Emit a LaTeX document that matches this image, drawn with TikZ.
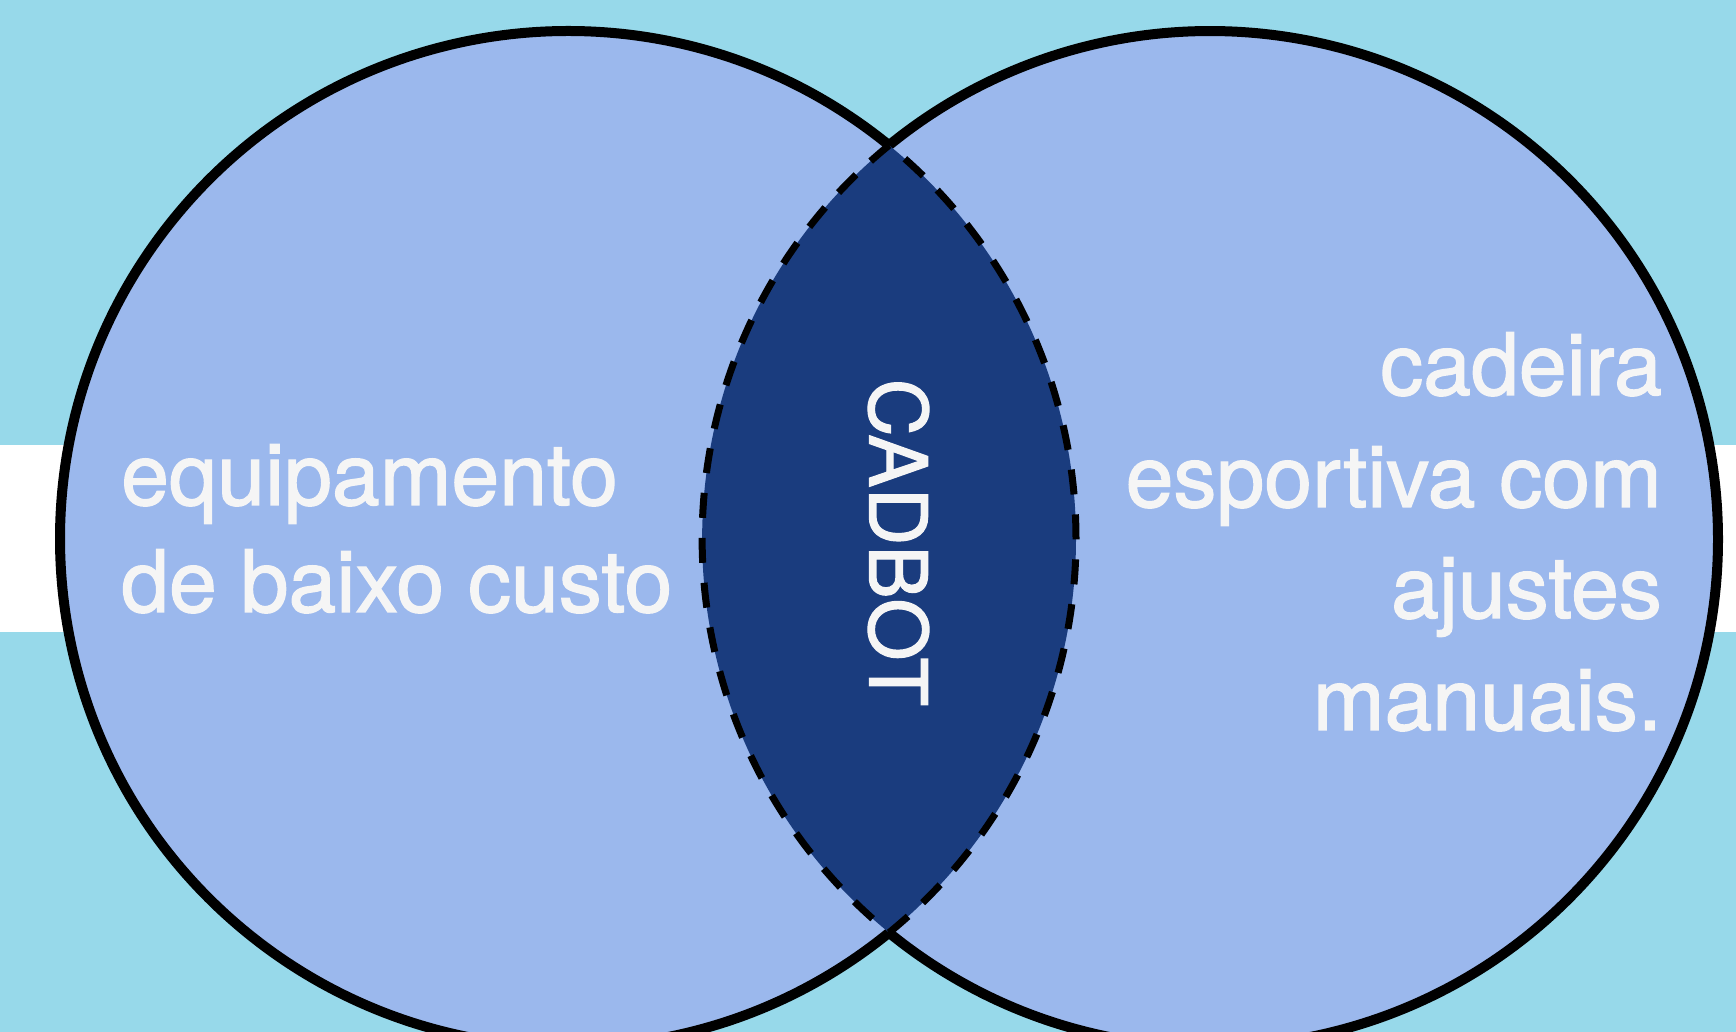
\documentclass[tikz,border=0pt]{standalone}
\usepackage{fontspec}
\setmainfont{TeX Gyre Heros}
\newfontfamily\medfont{TeX Gyre Heros}[FakeBold=1.5]
\definecolor{bgcyan}{RGB}{151,217,234}
\definecolor{lightcirc}{RGB}{155,184,237}
\definecolor{darklens}{RGB}{26,60,126}
\definecolor{labeltext}{RGB}{245,245,245}
\begin{document}
\begin{tikzpicture}[x=1pt,y=1pt,
  outline/.style={draw=black,line width=10pt},
  lensline/.style={draw=black,line width=7pt,dash pattern=on 25pt off 20pt},
  lbl/.style={text=labeltext,inner sep=0pt,font=\medfont\fontsize{86}{100}\selectfont}]
\useasboundingbox (0,0) rectangle (1736,1032);
\fill[bgcyan] (0,0) rectangle (1736,1032);
\fill[white] (0,400) rectangle (1736,587);
\coordinate (cl) at (568,493);
\coordinate (cr) at (1210,493);
\fill[lightcirc] (cl) circle[radius=508];
\fill[lightcirc] (cr) circle[radius=508];
\draw[outline] ([shift={(50.8:508)}]cl) arc[start angle=50.8,end angle=309.2,radius=508];
\draw[outline] ([shift={(-129.2:508)}]cr) arc[start angle=-129.2,end angle=129.2,radius=508];
\fill[darklens] ([shift={(-50.8:508)}]cl) arc[start angle=-50.8,end angle=50.8,radius=508]
  arc[start angle=129.2,end angle=230.8,radius=508] -- cycle;
\draw[lensline] ([shift={(-50.8:508)}]cl) arc[start angle=-50.8,end angle=50.8,radius=508]
  arc[start angle=129.2,end angle=230.8,radius=508];
\node[lbl,anchor=base west] (l1) at (121,527) {equipamento};
\node[lbl,anchor=base west] (l2) at (121,420) {de baixo custo};
\node[lbl,anchor=base east] (r1) at (1662,637) {cadeira};
\node[lbl,anchor=base east] (r2) at (1662,525) {esportiva com};
\node[lbl,anchor=base east] (r3) at (1662,414) {ajustes};
\node[lbl,anchor=base east] (r4) at (1662,302) {manuais.};
\node[lbl,rotate=-90,font=\medfont\fontsize{80}{96}\selectfont] (cad) at (898.5,489.5) {CADBOT};
\end{tikzpicture}
\end{document}
